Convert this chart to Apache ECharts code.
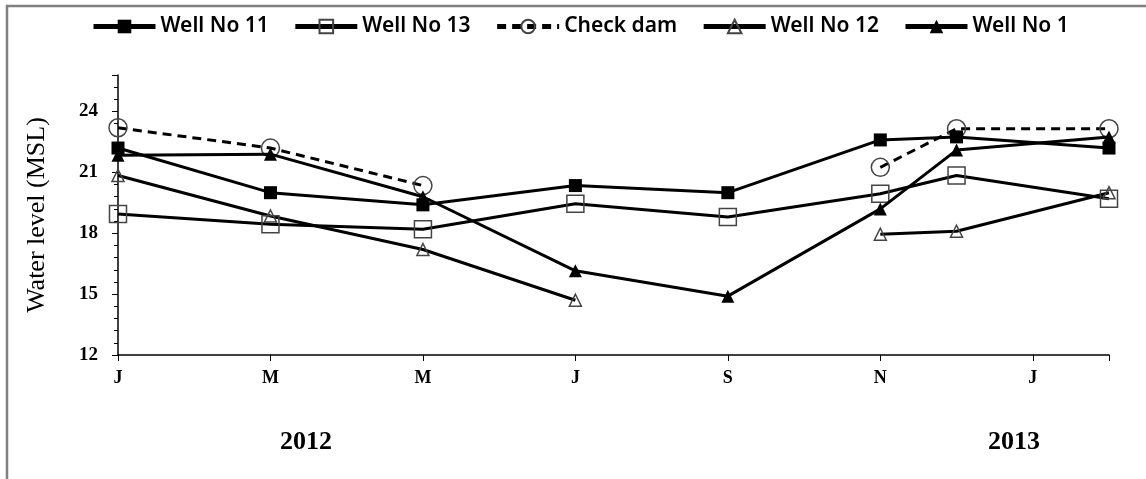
<!DOCTYPE html>
<html style="height: 100%">
<head>
    <meta charset="utf-8">
    <title>Water level</title>
    <script type="text/javascript" src="https://cdn.jsdelivr.net/npm/echarts@6/dist/echarts.min.js"></script>
</head>
<body style="height: 100%; margin: 0; background: #fff">
    <div id="container" style="width: 1146px; height: 479px"></div>
    <script type="text/javascript">
        // months counted from Jan 2012 (0) to Feb 2013 (13)
        var months = [0, 2, 4, 6, 8, 10, 11, 13];
        var tickLabels = ['J', 'M', 'M', 'J', 'S', 'N', 'J'];
        var years = ['2012', '2013'];

        var well11 = [22.2, 20.0, 19.4, 20.35, 20.0, 22.6, 22.75, 22.2];
        var well13 = [18.95, 18.45, 18.2, 19.45, 18.8, 19.95, 20.85, 19.7];
        var checkDam = [23.2, 22.2, 20.35, null, null, 21.25, 23.15, 23.15];
        var well12 = [20.85, 18.85, 17.2, 14.7, null, 17.95, 18.1, 20.0];
        var well1 = [21.85, 21.9, 19.8, 16.15, 14.9, 19.2, 22.1, 22.75];

        function pairs(vals) {
            return vals.map(function (v, i) { return [months[i], v]; });
        }

        var dom = document.getElementById('container');
        var myChart = echarts.init(dom);

        var serif = "'Liberation Serif', 'Times New Roman', serif";
        var sans = "'Liberation Sans Narrow', 'Noto Sans', sans-serif";

        function line(name, vals, symbol, size, filled, dashed) {
            return {
                name: name,
                type: 'line',
                data: pairs(vals),
                symbol: symbol,
                symbolSize: size,
                connectNulls: false,
                showAllSymbol: true,
                lineStyle: { color: '#000', width: 3, type: dashed ? [9, 6] : 'solid' },
                itemStyle: filled
                    ? { color: '#000', borderColor: '#000', borderWidth: 0 }
                    : { color: 'rgba(255,255,255,0)', borderColor: '#444', borderWidth: 1.5 },
                emphasis: { disabled: true },
                z: filled ? 3 : 2
            };
        }

        var option = {
            animation: false,
            backgroundColor: '#fff',
            legend: {
                top: 11,
                left: 86,
                itemWidth: 62,
                itemHeight: 17,
                itemGap: 24,
                lineStyle: { width: 5 },
                textStyle: { fontFamily: sans, fontSize: 21, fontWeight: 600, color: '#000' },
                data: ['Well No 11', 'Well No 13', 'Check dam', 'Well No 12', 'Well No 1']
            },
            grid: { left: 118, right: 37, top: 75, bottom: 124 },
            xAxis: {
                type: 'value',
                min: 0,
                max: 13,
                interval: 2,
                axisLine: { lineStyle: { color: '#000', width: 1.5 } },
                axisTick: { show: true, length: 6, lineStyle: { color: '#000' } },
                splitLine: { show: false },
                axisLabel: {
                    margin: 14,
                    fontFamily: serif,
                    fontWeight: 'bold',
                    fontSize: 18,
                    color: '#000',
                    formatter: function (v) {
                        var i = v / 2;
                        return tickLabels[i] !== undefined ? tickLabels[i] : '';
                    }
                }
            },
            yAxis: {
                type: 'value',
                min: 12,
                max: 25.8,
                interval: 3,
                name: 'Water level (MSL)',
                nameLocation: 'middle',
                nameGap: 68,
                nameTextStyle: { fontFamily: serif, fontSize: 26, color: '#000' },
                axisLine: { show: true, lineStyle: { color: '#000', width: 1.5 } },
                axisTick: { show: true, length: 6, lineStyle: { color: '#000' } },
                minorTick: { show: true, splitNumber: 5, length: 4, lineStyle: { color: '#000' } },
                splitLine: { show: false },
                axisLabel: {
                    margin: 20,
                    showMaxLabel: false,
                    fontFamily: serif,
                    fontWeight: 'bold',
                    fontSize: 19,
                    color: '#000'
                }
            },
            graphic: [
                { type: 'rect', shape: { x: 7, y: 6, width: 1200, height: 600 },
                  style: { fill: 'none', stroke: '#808080', lineWidth: 2.5 }, silent: true },
                { type: 'text', left: 280, top: 429,
                  style: { text: years[0], font: 'bold 26px ' + serif, fill: '#000' } },
                { type: 'text', left: 988, top: 429,
                  style: { text: years[1], font: 'bold 26px ' + serif, fill: '#000' } }
            ],
            series: [
                line('Well No 11', well11, 'rect', 13, true, false),
                line('Well No 13', well13, 'rect', 17, false, false),
                line('Check dam', checkDam, 'circle', 18, false, true),
                line('Well No 12', well12, 'triangle', 12, false, false),
                line('Well No 1', well1, 'triangle', 13, true, false)
            ]
        };

        myChart.setOption(option);
        window.onresize = function () {
            myChart.resize();
        };
    </script>
</body>
</html>
